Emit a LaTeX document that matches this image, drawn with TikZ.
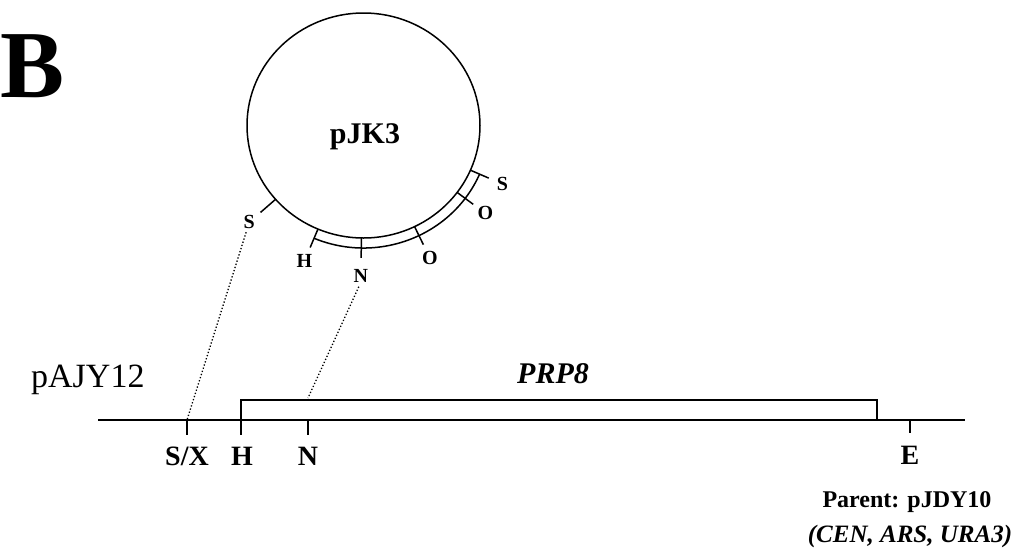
\documentclass[tikz,border=0pt]{standalone}
\usepackage{fontspec}
\setmainfont{Liberation Serif}
\usetikzlibrary{calc}
\begin{document}
\begin{tikzpicture}[x=1pt,y=-1pt,
  thin line/.style={line width=1.5pt},
  thick line/.style={line width=2.8pt},
  tick/.style={line width=1.5pt},
  btick/.style={line width=2.8pt},
  lab/.style={font=\fontsize{20}{20}\selectfont\bfseries, inner sep=0pt},
  blab/.style={font=\fontsize{28}{28}\selectfont\bfseries, inner sep=0pt, anchor=base},
  dots/.style={dotted, line width=1.3pt}]
\useasboundingbox (0,0) rectangle (1021,555);
% letter B
\node[anchor=base west, inner sep=0pt, font=\fontsize{96}{96}\selectfont\bfseries] (B) at (0,97) {B};
% plasmid pJK3
\coordinate (c) at (363.5,125.5);
\draw[thin line] (c) ellipse [x radius=116.5, y radius=112.5];
\node[anchor=base, inner sep=0pt, font=\fontsize{30}{30}\selectfont\bfseries] (pjk) at (365,143) {pJK3};
% insert arc
\draw[thin line] ($(c)+(113:126.5 and 122.5)$) arc [start angle=113, end angle=23.4, x radius=126.5, y radius=122.5];
% ticks
\foreach \a in {139,113,91,64,36.5,23.4}{
  \draw[tick] ($(c)+(\a:116.5 and 112.5)$) -- ($(c)+(\a:136.5 and 132.5)$);
}
\node[lab] (sL) at ($(c)+(139:151.5 and 147.5)$) {S};
\node[lab] (hC) at ($(c)+(113:151.5 and 147.5)$) {H};
\node[lab] (nC) at ($(c)+(91:154.5 and 150.5)$) {N};
\node[lab] (oB) at ($(c)+(64:151.5 and 147.5)$) {O};
\node[lab] (oR) at ($(c)+(36.5:151.5 and 147.5)$) {O};
\node[lab] (sR) at ($(c)+(23.4:151.5 and 147.5)$) {S};
% linear map
\node[anchor=base west, inner sep=0pt, font=\fontsize{34}{34}\selectfont] (pajy) at (31,387) {pAJY12};
\coordinate (l0) at (98,420);
\coordinate (l1) at (965,420);
\draw[thick line] (l0) -- (l1);
\coordinate (bx0) at (241,420);
\coordinate (bx1) at (877,420);
\draw[line width=2.4pt] (bx0) -- (241,400) -- (877,400) -- (bx1);
\node[anchor=base, inner sep=0pt, font=\fontsize{30}{30}\selectfont\bfseries\itshape] (prp) at (553,383) {PRP8};
% ticks under line
\coordinate (sx) at (187,420);
\coordinate (hx) at (241,420);
\coordinate (nx) at (308,420);
\coordinate (ex) at (910,420);
\draw[btick] (sx) -- ++(0,15);
\draw[btick] (hx) -- ++(0,15);
\draw[btick] (nx) -- ++(0,15);
\draw[btick] (ex) -- ++(0,13);
\node[blab] (sxl) at (187,465) {S/X};
\node[blab] (hl) at (242,465) {H};
\node[blab] (nl) at (308,465) {N};
\node[blab] (el) at (910,464) {E};
\node[anchor=base, inner sep=0pt, font=\fontsize{24}{24}\selectfont\bfseries] (par) at (907,507) {Parent: pJDY10};
\node[anchor=base, inner sep=0pt, font=\fontsize{25}{25}\selectfont\bfseries\itshape] (cen) at (910,542) {(CEN, ARS, URA3)};
% dotted connectors
\coordinate (nbox) at (308,398);
\draw[dots] (sL.south) ++(-3,3) -- (sx);
\draw[dots] (nC.south) ++(-2,4) -- (nbox);
\end{tikzpicture}
\end{document}
